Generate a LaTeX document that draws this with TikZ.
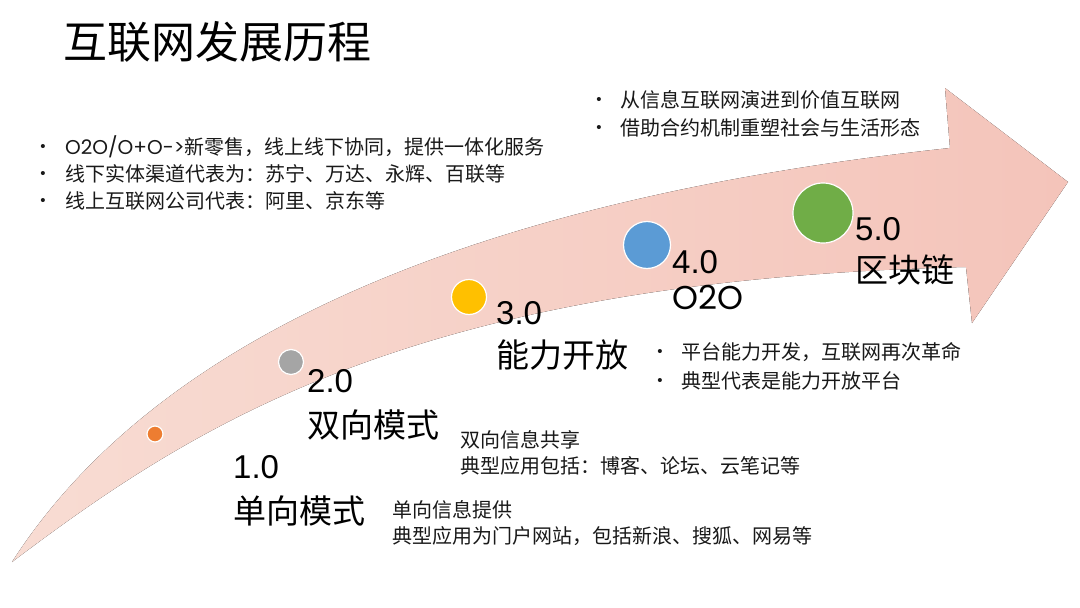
\documentclass[tikz,border=0pt]{standalone}
\usepackage{fontspec}
\setmainfont{Liberation Sans}
\newfontfamily\cjk{Noto Sans CJK SC}
\newfontfamily\geo{Poppins}
\definecolor{arrowL}{RGB}{248,220,211}
\definecolor{arrowR}{RGB}{244,196,186}
\definecolor{textc}{RGB}{25,25,25}
\definecolor{c1}{HTML}{ED7D31}
\definecolor{c2}{HTML}{A5A5A5}
\definecolor{c3}{HTML}{FFC000}
\definecolor{c4}{HTML}{5B9BD5}
\definecolor{c5}{HTML}{70AD47}
\begin{document}
\begin{tikzpicture}[x=1pt,y=-1pt,
  txt/.style={anchor=west,inner sep=0pt,text=textc,font=\cjk\fontsize{20}{24}\selectfont},
  bul/.style={anchor=center,inner sep=0pt,text=textc,font=\fontsize{15}{18}\selectfont},
  big/.style={anchor=west,inner sep=0pt,text=black,font=\cjk\fontsize{33}{38}\selectfont},
  num/.style={anchor=west,inner sep=0pt,text=black,font=\fontsize{33}{38}\selectfont},
  dot/.style={circle,draw=white,line width=1.2pt,inner sep=0pt}]
\useasboundingbox[fill=white] (0,0) rectangle (1080,608);
% big curved arrow
\fill[left color=arrowL,right color=arrowR]
  (12,562) .. controls (180,300) and (560,190) .. (950,148)
  -- (945,88) -- (1068,182) -- (972,323) -- (966,267)
  .. controls (420,280) and (200,420) .. (12,562) -- cycle;
% title
\node[anchor=west,inner sep=0pt,text=black,font=\cjk\fontsize{44}{50}\selectfont] (title) at (63,42) {互联网发展历程};
% circles
\node[dot,fill=c1,minimum size=16pt] (p1) at (155,434) {};
\node[dot,fill=c2,minimum size=25pt] (p2) at (291,362) {};
\node[dot,fill=c3,minimum size=35pt] (p3) at (469,297) {};
\node[dot,fill=c4,minimum size=47pt] (p4) at (647,245) {};
\node[dot,fill=c5,minimum size=60pt] (p5) at (823,213) {};
% stage labels
\node[num] (n1) at (233,467) {1.0};
\node[big] (m1) at (233,511) {单向模式};
\node[num] (n2) at (307,381) {2.0};
\node[big] (m2) at (307,425) {双向模式};
\node[num] (n3) at (496,313) {3.0};
\node[big] (m3) at (496,355) {能力开放};
\node[num] (n4) at (672,262) {4.0};
\node[num,font=\geo\fontsize{33}{38}\selectfont] (m4) at (672,297) {O2O};
\node[num] (n5) at (855,229) {5.0};
\node[big] (m5) at (855,270) {区块链};
% list 1
\node[bul] (b11) at (43,148) {•};
\node[txt] (t11) at (65,147) {{\geo O2O/O+O->}新零售，线上线下协同，提供一体化服务};
\node[bul] (b12) at (43,175) {•};
\node[txt] (t12) at (65,174) {线下实体渠道代表为：苏宁、万达、永辉、百联等};
\node[bul] (b13) at (43,202) {•};
\node[txt] (t13) at (65,201) {线上互联网公司代表：阿里、京东等};
% list 2
\node[bul] (b21) at (599,101) {•};
\node[txt] (t21) at (620,100) {从信息互联网演进到价值互联网};
\node[bul] (b22) at (599,129) {•};
\node[txt] (t22) at (620,128) {借助合约机制重塑社会与生活形态};
% list 3
\node[bul] (b31) at (660,353) {•};
\node[txt] (t31) at (681,352) {平台能力开发，互联网再次革命};
\node[bul] (b32) at (660,382) {•};
\node[txt] (t32) at (681,381) {典型代表是能力开放平台};
% descriptions
\node[txt] (d21) at (460,440) {双向信息共享};
\node[txt] (d22) at (460,466) {典型应用包括：博客、论坛、云笔记等};
\node[txt] (d11) at (392,510) {单向信息提供};
\node[txt] (d12) at (392,536) {典型应用为门户网站，包括新浪、搜狐、网易等};
\end{tikzpicture}
\end{document}
